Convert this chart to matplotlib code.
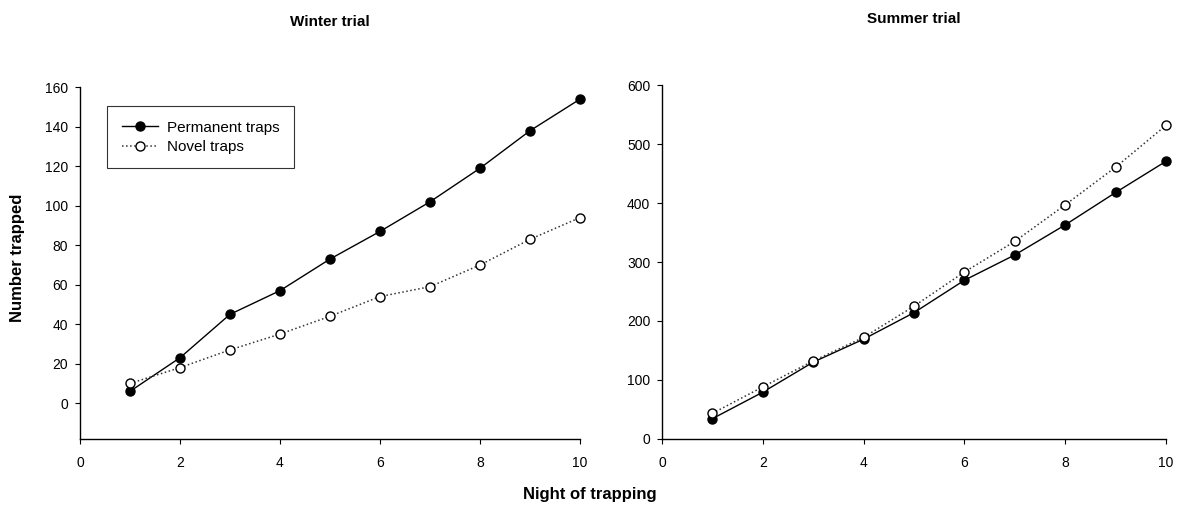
import matplotlib
matplotlib.use("Agg")
import matplotlib.pyplot as plt

plt.rcParams['font.family'] = ['Liberation Sans', 'DejaVu Sans']

nights = [1, 2, 3, 4, 5, 6, 7, 8, 9, 10]
winter_permanent = [6, 23, 45, 57, 73, 87, 102, 119, 138, 154]
winter_novel = [10, 18, 27, 35, 44, 54, 59, 70, 83, 94]
summer_permanent = [34, 79, 130, 169, 214, 269, 312, 363, 418, 471]
summer_novel = [43, 88, 132, 172, 225, 283, 335, 397, 461, 532]

series_labels = ["Permanent traps", "Novel traps"]
panel_titles = ["Winter trial", "Summer trial"]
xlabel = "Night of trapping"
ylabel = "Number trapped"

W, H = 1178, 508
fig = plt.figure(figsize=(W / 100, H / 100), dpi=100)

def box(x0, y0, x1, y1):
    return [x0 / W, 1 - y1 / H, (x1 - x0) / W, (y1 - y0) / H]

ax1 = fig.add_axes(box(80, 87.3, 580, 438.7))
ax2 = fig.add_axes(box(662, 85.3, 1166, 438.7))

def style(ax, ylim, yticks):
    ax.set_xlim(0, 10)
    ax.set_ylim(*ylim)
    ax.set_xticks([0, 2, 4, 6, 8, 10])
    ax.set_yticks(yticks)
    for s in ['top', 'right']:
        ax.spines[s].set_visible(False)
    for s in ['left', 'bottom']:
        ax.spines[s].set_linewidth(1.0)
    ax.tick_params(direction='out', length=3.5, width=0.8, labelsize=10, pad=5)
    ax.xaxis.set_tick_params(pad=9)

def plot_pair(ax, perm, novel):
    ax.plot(nights, perm, '-', color='black', lw=1.0, marker='o', ms=6.5,
            mfc='black', mec='black', label=series_labels[0], clip_on=False, zorder=3)
    ax.plot(nights, novel, ':', color='#333333', lw=1.1, marker='o', ms=6.5,
            mfc='white', mec='black', mew=1.0, label=series_labels[1], clip_on=False, zorder=4)

plot_pair(ax1, winter_permanent, winter_novel)
plot_pair(ax2, summer_permanent, summer_novel)

style(ax1, (-18, 160), list(range(0, 161, 20)))
style(ax2, (0, 600), list(range(0, 601, 100)))

ax1.set_title(panel_titles[0], fontsize=11, fontweight='bold', pad=44)
ax2.set_title(panel_titles[1], fontsize=11, fontweight='bold', pad=45)

leg = ax1.legend(loc='upper left', bbox_to_anchor=(107 / W, 1 - 106 / H),
                 bbox_transform=fig.transFigure, borderaxespad=0, fontsize=11,
                 frameon=True, fancybox=False, edgecolor='black', handlelength=2.4,
                 borderpad=0.95, labelspacing=0.35, handletextpad=0.6)
leg.get_frame().set_linewidth(0.8)

fig.text(590 / W, 1 - 495 / H, xlabel, ha='center', va='center', fontsize=12, fontweight='bold')
fig.text(18 / W, 1 - 258 / H, ylabel, ha='center', va='center', rotation=90, fontsize=12, fontweight='bold')

fig.savefig("out.png", dpi=100)
